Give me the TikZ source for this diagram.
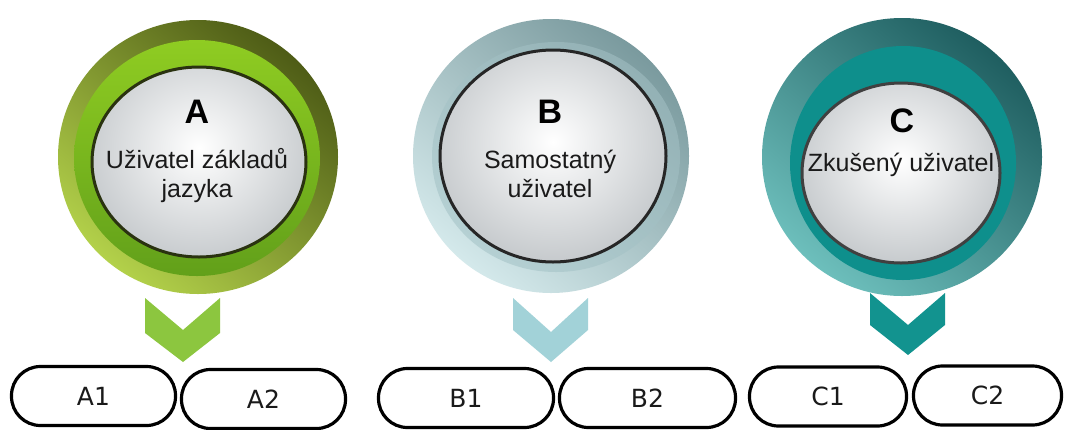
\documentclass[tikz,border=0pt]{standalone}
\usepackage{fontspec}
\setmainfont{Liberation Sans}
\newfontfamily\pillfont{DejaVu Sans}
\definecolor{aDark}{HTML}{4E5C16}
\definecolor{aLight}{HTML}{B3D14A}
\definecolor{aBandT}{HTML}{8FCC22}
\definecolor{aBandB}{HTML}{62A01A}
\definecolor{aChev}{HTML}{8CC63F}
\definecolor{aRim}{HTML}{2A3210}
\definecolor{bDark}{HTML}{7A9A9E}
\definecolor{bLight}{HTML}{D4E9EB}
\definecolor{bBandT}{HTML}{93B1B5}
\definecolor{bBandB}{HTML}{B5D0D3}
\definecolor{bChev}{HTML}{A2D2D8}
\definecolor{cDark}{HTML}{1F5E60}
\definecolor{cLight}{HTML}{6DBFBC}
\definecolor{cBand}{HTML}{0E8F8C}
\definecolor{cChev}{HTML}{12938F}
\definecolor{txt}{HTML}{1A1A1A}
\definecolor{diskEdge}{HTML}{C4C8CB}
\begin{document}
\begin{tikzpicture}[x=1pt,y=-1pt,
  lbl/.style={anchor=base,text=txt,inner sep=0pt,font=\fontsize{25}{29}\selectfont},
  big/.style={anchor=base,text=black,inner sep=0pt,font=\fontsize{34}{40}\selectfont\bfseries},
  pill/.style={draw=black,line width=3.2pt,rounded corners=29pt,fill=white,
    minimum height=59pt,inner sep=0pt,text=txt,font=\pillfont\fontsize{25}{30}\selectfont},
  disk/.style={inner color=white,outer color=diskEdge}
]
\useasboundingbox (0,0) rectangle (1065,429);
\fill[white] (0,0) rectangle (1065,429);

% ---------- level A ----------
\shade[top color=aDark,bottom color=aLight,shading angle=-40]
  (198,157) ellipse (140pt and 137pt);
\shade[top color=aBandT,bottom color=aBandB]
  (197,158) ellipse (123pt and 118pt);
\begin{scope}
  \clip (199,162) ellipse (107pt and 95pt);
  \shade[disk] (199,148) ellipse (122pt and 118pt);
\end{scope}
\draw[line width=3pt,draw=aRim] (199,162) ellipse (107pt and 95pt);
\node (lvA) at (199,162) {};
\node[big] (tA) at (197,123) {A};
\node[lbl] (sA1) at (197,168) {Uživatel základů};
\node[lbl] (sA2) at (197,197) {jazyka};
\fill[aChev] (145,298) -- (183,330) -- (220,298) -- (220,333)
  -- (183,362) -- (145,333) -- cycle;

% ---------- level B ----------
\shade[top color=bDark,bottom color=bLight,shading angle=-40]
  (551,156) ellipse (138pt and 137pt);
\shade[top color=bBandT,bottom color=bBandB,shading angle=-40]
  (556,157) ellipse (124pt and 115pt);
\begin{scope}
  \clip (553,156) ellipse (113pt and 106pt);
  \shade[disk] (553,142) ellipse (128pt and 124pt);
\end{scope}
\draw[line width=3pt,draw=black!85] (553,156) ellipse (113pt and 106pt);
\node (lvB) at (553,156) {};
\node[big] (tB) at (550,123) {B};
\node[lbl] (sB1) at (550,168) {Samostatný};
\node[lbl] (sB2) at (550,197) {uživatel};
\fill[bChev] (513,298) -- (551,332) -- (588,298) -- (588,330)
  -- (551,362) -- (513,330) -- cycle;

% ---------- level C ----------
\shade[top color=cDark,bottom color=cLight,shading angle=-40]
  (902,157) ellipse (140pt and 139pt);
\fill[cBand] (903,163) ellipse (113pt and 117pt);
\begin{scope}
  \clip (901,173) ellipse (99pt and 90pt);
  \shade[disk] (901,160) ellipse (113pt and 108pt);
\end{scope}
\draw[line width=3pt,draw=black!75] (901,173) ellipse (99pt and 90pt);
\node (lvC) at (901,173) {};
\node[big] (tC) at (902,132) {C};
\node[lbl] (sC1) at (901,171) {Zkušený uživatel};
\fill[cChev] (870,293) -- (908,325) -- (945,293) -- (945,325)
  -- (908,355) -- (870,325) -- cycle;

% ---------- sub-levels ----------
\node[pill,minimum width=164pt] (A1) at (93.5,396) {A1};
\node[pill,minimum width=164pt] (A2) at (263.5,399) {A2};
\node[pill,minimum width=175pt] (B1) at (466,398) {B1};
\node[pill,minimum width=176pt] (B2) at (647.5,398) {B2};
\node[pill,minimum width=157pt] (C1) at (828,396.5) {C1};
\node[pill,minimum width=148pt] (C2) at (987.5,395.5) {C2};
\end{tikzpicture}
\end{document}
